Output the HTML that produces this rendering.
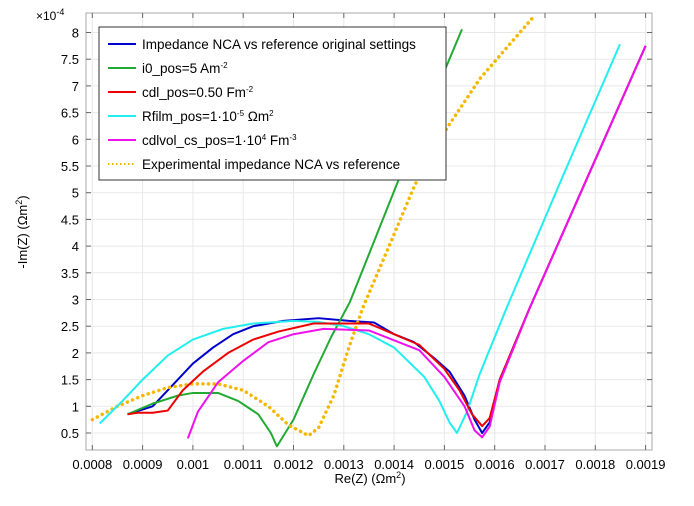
<!DOCTYPE html>
<html><head><meta charset="utf-8"><style>
body{margin:0;background:#fff;font-family:"Liberation Sans","Noto Sans CJK SC",sans-serif}
svg text{font-family:"Liberation Sans","Noto Sans CJK SC",sans-serif}
</style></head><body>
<svg id="chart" width="694" height="501" xmlns="http://www.w3.org/2000/svg">
<rect x="0" y="0" width="694" height="501" fill="#fff"/>
<g id="grid"></g>
<g id="axes"></g>
<g id="series"></g>
<text x="36" y="20" font-size="12">×10<tspan dy="-5" font-size="9">-4</tspan></text>
<text transform="translate(27,232) rotate(-90)" text-anchor="middle" font-size="13">-Im(Z) (Ωm<tspan dy="-5" font-size="9">2</tspan><tspan dy="5">)</tspan></text>
<text x="370" y="483" text-anchor="middle" font-size="13">Re(Z) (Ωm<tspan dy="-5" font-size="9">2</tspan><tspan dy="5">)</tspan></text>
<g id="legend">
<rect x="99" y="27" width="347" height="153" fill="#fff" stroke="#333" stroke-width="1"/>
</g>
</svg>
<script>
const xTicks=[0.0008,0.0009,0.001,0.0011,0.0012,0.0013,0.0014,0.0015,0.0016,0.0017,0.0018,0.0019];
const yTicks=[0.5,1,1.5,2,2.5,3,3.5,4,4.5,5,5.5,6,6.5,7,7.5,8];
const blueX=[8.7,9.2,9.6,10,10.4,10.8,11.2,11.8,12.5,13.1,13.6,14,14.4,14.8,15.1,15.4,15.6,15.75,15.9,16.1,16.7,17.85,19.0];
const blueY=[0.85,1.0,1.4,1.8,2.1,2.35,2.5,2.6,2.65,2.6,2.57,2.35,2.2,1.9,1.65,1.2,0.75,0.5,0.7,1.5,2.85,5.3,7.75];
const greenX=[8.7,9.2,9.7,10,10.5,10.9,11.3,11.55,11.67,12.0,12.4,12.75,13.12,14.08,15.35];
const greenY=[0.85,1.05,1.2,1.25,1.25,1.1,0.85,0.5,0.25,0.75,1.6,2.3,2.95,5.22,8.06];
const redX=[8.7,8.9,9.2,9.5,9.8,10.2,10.7,11.2,11.7,12.4,13.0,13.5,14.0,14.5,15.0,15.3,15.55,15.75,15.9,16.1,16.7,17.85,19.0];
const redY=[0.85,0.88,0.88,0.92,1.3,1.65,2.0,2.25,2.4,2.55,2.55,2.55,2.35,2.15,1.7,1.3,0.85,0.63,0.78,1.5,2.85,5.3,7.75];
const cyanX=[8.15,8.6,9,9.5,10,10.6,11.2,12.0,12.5,13.0,13.5,14,14.6,14.9,15.1,15.25,15.45,15.7,16.24,17.35,18.49];
const cyanY=[0.68,1.1,1.5,1.95,2.25,2.45,2.55,2.6,2.58,2.5,2.35,2.1,1.55,1.1,0.7,0.5,0.9,1.6,2.85,5.3,7.78];
const magX=[9.9,10.1,10.5,11,11.5,12,12.6,13.5,14.5,15.0,15.4,15.6,15.75,15.9,16.1,16.7,17.85,19.0];
const magY=[0.4,0.9,1.45,1.85,2.2,2.35,2.45,2.42,2.05,1.55,1.0,0.55,0.42,0.62,1.45,2.85,5.3,7.75];
const expX=[8.0,8.5,9,9.5,10,10.5,11,11.5,11.9,12.3,12.5,12.8,13.1,13.38,13.9,14.42,15.05,15.71,16.74];
const expY=[0.75,1.0,1.2,1.35,1.42,1.42,1.3,1.0,0.65,0.45,0.6,1.2,2.1,2.85,4.0,5.16,6.21,7.14,8.26];

const NS="http://www.w3.org/2000/svg";
const L=86,R=652,T=13,B=450;
function sx(v){return 92.3+(v-0.0008)*1e4*50.3;}
function sy(v){return 433-(v-0.5)*53.4;}
function el(tag,attrs,parent){const e=document.createElementNS(NS,tag);for(const k in attrs)e.setAttribute(k,attrs[k]);parent.appendChild(e);return e;}
const grid=document.getElementById('grid'),axes=document.getElementById('axes'),ser=document.getElementById('series'),leg=document.getElementById('legend');
el('rect',{x:L,y:T,width:R-L,height:B-T,fill:'none',stroke:'#aaa','stroke-width':1},axes);
xTicks.forEach(t=>{const x=sx(t);
 const g=el('line',{x1:x,x2:x,y1:T,y2:B,stroke:'#e8e8e8'},grid);
 
 el('line',{x1:x,x2:x,y1:B,y2:B-5,stroke:'#666'},axes);el('line',{x1:x,x2:x,y1:T,y2:T+5,stroke:'#666'},axes);
 const tx=el('text',{x:x,y:469,'text-anchor':'middle','font-size':13},axes);tx.textContent=String(t);
 });
yTicks.forEach(t=>{const y=sy(t);
 const g=el('line',{x1:L,x2:R,y1:y,y2:y,stroke:'#e8e8e8'},grid);
 
 el('line',{x1:L,x2:L+5,y1:y,y2:y,stroke:'#666'},axes);el('line',{x1:R,x2:R-5,y1:y,y2:y,stroke:'#666'},axes);
 const tx=el('text',{x:L-7,y:y+5,'text-anchor':'end','font-size':13},axes);tx.textContent=String(t);
 });
const defs=[[blueX,blueY,'#0000cc',null,'series-original'],[greenX,greenY,'#22aa33',null,'series-i0-pos'],[expX,expY,'#f5b800','0.1 5.5','series-experimental'],[cyanX,cyanY,'#22eeee',null,'series-rfilm-pos'],[redX,redY,'#ee0000',null,'series-cdl-pos'],[magX,magY,'#ee11ee',null,'series-cdlvol-cs-pos']];
const clip=el('clipPath',{id:'pc'},document.getElementById('chart'));el('rect',{x:L,y:T,width:R-L,height:B-T},clip);
defs.forEach(d=>{const pts=d[0].map((x,i)=>sx(x*1e-4)+','+sy(d[1][i])).join(' ');
 const a={points:pts,fill:'none',stroke:d[2],'stroke-width':d[3]?3.5:2,'stroke-linejoin':'round','clip-path':'url(#pc)'};
 if(d[3]){a['stroke-dasharray']=d[3];a['stroke-linecap']='round';}
 const p=el('polyline',a,ser);});
const legs=[['#0000cc',null,'Impedance NCA vs reference original settings',''],['#22aa33',null,'i0_pos=5 Am','-2'],['#ee0000',null,'cdl_pos=0.50 Fm','-2'],['#22eeee',null,'Rfilm_pos=1·10','-5'],['#ee11ee',null,'cdlvol_cs_pos=1·10','4'],['#f5b800','1.5 2.5','Experimental impedance NCA vs reference','']];
legs.forEach((l,i)=>{const y=44+i*24;
 const a={x1:108,x2:136,y1:y,y2:y,stroke:l[0],'stroke-width':2};if(l[1])a['stroke-dasharray']=l[1];
 const ln=el('line',a,leg);
 const t=el('text',{x:142,y:y+5,'font-size':13.5},leg);
 t.appendChild(document.createTextNode(l[2]));
 if(l[3]){const s=el('tspan',{dy:-5,'font-size':8},t);s.textContent=l[3];
  const rest=i===3?[' Ωm','2']:i===4?[' Fm','-3']:null;
  if(rest){const s2=el('tspan',{dy:5},t);s2.textContent=rest[0];const s3=el('tspan',{dy:-5,'font-size':8},t);s3.textContent=rest[1];}}
});
</script>
</body></html>
